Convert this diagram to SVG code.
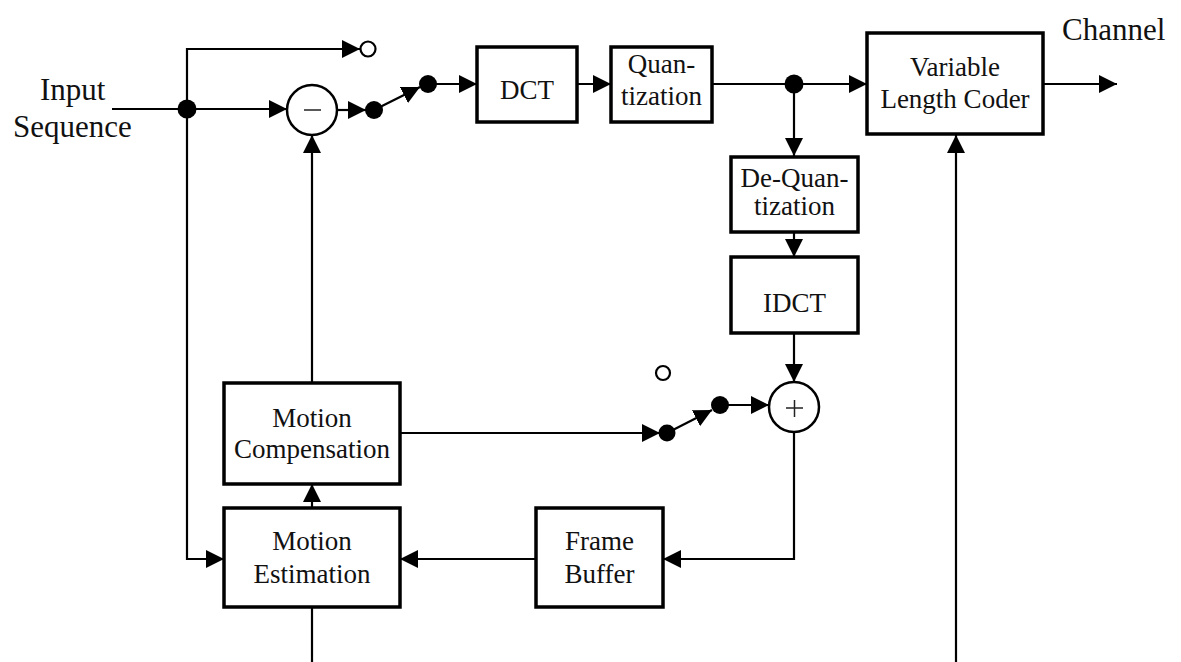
<svg xmlns="http://www.w3.org/2000/svg" width="1181" height="662" viewBox="0 0 1181 662">
<style>
.box{fill:#fff;stroke:#000;stroke-width:3.5}
.lbl{font-family:"Liberation Serif","Times New Roman",serif;font-size:27px;fill:#111;text-anchor:middle}
.big{font-family:"Liberation Serif","Times New Roman",serif;font-size:31px;fill:#111}
.wire{fill:none;stroke:#000;stroke-width:2.2}
.arr{marker-end:url(#ah)}
.dot{fill:#000}
.open{fill:#fff;stroke:#000;stroke-width:2.2}
.sum{fill:#fff;stroke:#000;stroke-width:2.5}
.sign{stroke:#222;stroke-width:1.5}
</style>
<defs>
<marker id="ah" viewBox="0 0 18 18" refX="18" refY="9" markerWidth="18" markerHeight="18" markerUnits="userSpaceOnUse" orient="auto">
<path d="M0,0 L18,9 L0,18 Z" fill="#000"/>
</marker>
</defs>
<rect width="1181" height="662" fill="#fff"/>
<g id="connectors">
<path class="wire" d="M112,109 H287" marker-end="url(#ah)"/>
<path class="wire" d="M187,109 V49 H360" marker-end="url(#ah)"/>
<path class="wire" d="M337,110 H366" marker-end="url(#ah)"/>
<path class="wire" d="M374,110 L420,87" marker-end="url(#ah)"/>
<path class="wire" d="M428,84 H477" marker-end="url(#ah)"/>
<path class="wire" d="M577,84 H611" marker-end="url(#ah)"/>
<path class="wire" d="M712,84 H867" marker-end="url(#ah)"/>
<path class="wire" d="M794,84 V156" marker-end="url(#ah)"/>
<path class="wire" d="M794,232 V257" marker-end="url(#ah)"/>
<path class="wire" d="M794,333 V382" marker-end="url(#ah)"/>
<path class="wire" d="M1043,84 H1117" marker-end="url(#ah)"/>
<path class="wire" d="M312,383 V135" marker-end="url(#ah)"/>
<path class="wire" d="M187,109 V559 H224" marker-end="url(#ah)"/>
<path class="wire" d="M312,508 V484" marker-end="url(#ah)"/>
<path class="wire" d="M536,559 H400" marker-end="url(#ah)"/>
<path class="wire" d="M794,432 V559 H663" marker-end="url(#ah)"/>
<path class="wire" d="M400,433 H660" marker-end="url(#ah)"/>
<path class="wire" d="M667,433 L712,410" marker-end="url(#ah)"/>
<path class="wire" d="M720,405 H769" marker-end="url(#ah)"/>
<path class="wire" d="M312,607 V662"/>
<path class="wire" d="M956,662 V135" marker-end="url(#ah)"/>
<circle class="dot" cx="187" cy="109" r="9.5"/>
<circle class="open" cx="368" cy="49" r="7.5"/>
<circle class="dot" cx="374" cy="110" r="9"/>
<circle class="dot" cx="428" cy="84" r="9"/>
<circle class="dot" cx="794" cy="84" r="9.5"/>
<circle class="open" cx="663" cy="373" r="7"/>
<circle class="dot" cx="667" cy="433" r="8.5"/>
<circle class="dot" cx="720" cy="405" r="9"/>
</g>
<g id="input-label">
<text class="big" x="40" y="100">Input</text>
<text class="big" x="13" y="137">Sequence</text>
</g>
<g id="channel-label">
<text class="big" x="1062" y="40">Channel</text>
</g>
<g id="subtractor">
<circle class="sum" cx="312" cy="110" r="25"/>
<line class="sign" x1="304" y1="110" x2="321" y2="110"/>
</g>
<g id="adder">
<circle class="sum" cx="794" cy="407" r="25"/>
<line class="sign" x1="786" y1="408" x2="803" y2="408"/>
<line class="sign" x1="794.5" y1="400" x2="794.5" y2="417"/>
</g>
<g id="dct">
<rect class="box" x="477" y="47" width="100" height="75"/>
<text class="lbl" x="527" y="99">DCT</text>
</g>
<g id="quantization">
<rect class="box" x="611" y="47" width="101" height="75"/>
<text class="lbl" x="661.5" y="73">Quan-</text>
<text class="lbl" x="661.5" y="105">tization</text>
</g>
<g id="vlc">
<rect class="box" x="867" y="33" width="176" height="101"/>
<text class="lbl" x="955" y="76">Variable</text>
<text class="lbl" x="955" y="108">Length Coder</text>
</g>
<g id="dequantization">
<rect class="box" x="731" y="157" width="127" height="75"/>
<text class="lbl" x="794.5" y="187">De-Quan-</text>
<text class="lbl" x="794.5" y="215">tization</text>
</g>
<g id="idct">
<rect class="box" x="731" y="257" width="127" height="76"/>
<text class="lbl" x="794.5" y="312">IDCT</text>
</g>
<g id="motion-compensation">
<rect class="box" x="224" y="383" width="176" height="101"/>
<text class="lbl" x="312" y="427">Motion</text>
<text class="lbl" x="312" y="458">Compensation</text>
</g>
<g id="motion-estimation">
<rect class="box" x="224" y="508" width="176" height="99"/>
<text class="lbl" x="312" y="550">Motion</text>
<text class="lbl" x="312" y="583">Estimation</text>
</g>
<g id="frame-buffer">
<rect class="box" x="536" y="508" width="127" height="99"/>
<text class="lbl" x="599.5" y="550">Frame</text>
<text class="lbl" x="599.5" y="583">Buffer</text>
</g>
</svg>
